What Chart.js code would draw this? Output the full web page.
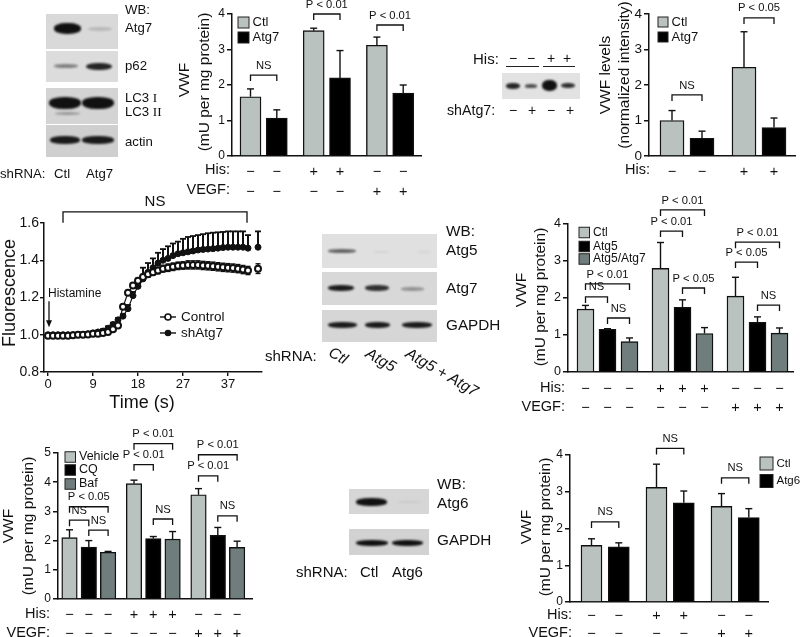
<!DOCTYPE html>
<html lang="en">
<head>
    <meta charset="UTF-8">
    <title>VWF secretion panels</title>
    <script src="https://cdn.jsdelivr.net/npm/chart.js"></script>
    <style>
        html, body { margin: 0; background: #fff; }
        #page { position: relative; width: 800px; height: 637px; overflow: hidden; font-family: "Liberation Sans", Arial, sans-serif; color: #111; }
        canvas { position: absolute; left: 0; top: 0; }
        .lbl { position: absolute; white-space: nowrap; transform: translateY(-50%); }
        .rot { position: absolute; white-space: nowrap; font-style: italic; transform-origin: left center; transform: translateY(-50%) rotate(30deg); }
        .blot { position: absolute; }
        .band { position: absolute; background: #111; border-radius: 45%; filter: blur(1px); }
        .rule { position: absolute; height: 1px; background: #222; }
        .serif { font-family: "Liberation Serif", serif; }
    </style>
</head>
<body>
<div id="page"></div>
<script>
    // top panel: VWF in medium (Ctl / Atg7)
    const atg7Ctl = [1.67, 3.53, 3.12];
    const atg7CtlTop = [1.89, 3.6, 3.35];
    const atg7Kd = [1.07, 2.2, 1.77];
    const atg7KdTop = [1.3, 2.97, 2.0];
    const atg7His = ['−', '−', '+', '+', '−', '−'];
    const atg7Vegf = ['−', '−', '−', '−', '+', '+'];

    // top right panel: normalized intensity
    const levelCtl = [1.0, 2.5];
    const levelCtlTop = [1.28, 3.5];
    const levelKd = [0.5, 0.8];
    const levelKdTop = [0.7, 1.07];
    const levelHis = ['−', '−', '+', '+'];

    // middle right panel: Ctl / Atg5 / Atg5+Atg7
    const atg5Ctl = [1.7, 2.8, 2.05];
    const atg5CtlTop = [1.8, 3.5, 2.56];
    const atg5Kd = [1.15, 1.75, 1.34];
    const atg5KdTop = [1.17, 1.95, 1.49];
    const atg57Kd = [0.82, 1.04, 1.05];
    const atg57KdTop = [0.92, 1.2, 1.19];
    const triHis = ['−', '−', '−', '+', '+', '+', '−', '−', '−'];
    const triVegf = ['−', '−', '−', '−', '−', '−', '+', '+', '+'];

    // bottom left panel: lysosome inhibitors
    const vehicle = [2.1, 3.95, 3.57];
    const vehicleTop = [2.37, 4.07, 3.78];
    const cq = [1.78, 2.07, 2.18];
    const cqTop = [2.0, 2.14, 2.45];
    const baf = [1.6, 2.05, 1.77];
    const bafTop = [1.63, 2.31, 1.98];

    // bottom right panel: Ctl / Atg6
    const atg6Ctl = [1.54, 3.12, 2.6];
    const atg6CtlTop = [1.72, 3.75, 2.95];
    const atg6Kd = [1.5, 2.7, 2.3];
    const atg6KdTop = [1.61, 3.02, 2.54];

    // time course
    const seconds = [0,1,2,3,4,5,6,7,8,9,10,11,12,13,14,15,16,17,18,19,20,21,22,23,24,25,26,27,28,29,30,31,32,33,34,35,36,37,38,39,40,41,42];
    const control = [0.995,0.995,0.995,0.995,0.995,0.997,1.0,1.0,1.002,1.005,1.005,1.01,1.015,1.03,1.05,1.15,1.225,1.265,1.29,1.31,1.325,1.335,1.345,1.355,1.36,1.365,1.37,1.372,1.375,1.375,1.375,1.372,1.37,1.368,1.365,1.362,1.36,1.358,1.355,1.35,1.345,null,1.355];
    const controlErr = [0.005,0.005,0.005,0.005,0.005,0.005,0.005,0.005,0.005,0.005,0.005,0.005,0.006,0.008,0.01,0.01,0.012,0.012,0.014,0.014,0.016,0.016,0.018,0.018,0.02,0.02,0.02,0.02,0.022,0.022,0.022,0.022,0.022,0.022,0.022,0.022,0.022,0.022,0.022,0.022,0.022,null,0.026];
    const shAtg7 = [1.0,1.0,1.0,1.0,1.0,1.0,1.0,1.002,1.005,1.01,1.015,1.02,1.035,1.055,1.08,1.1,1.14,1.21,1.26,1.3,1.335,1.36,1.385,1.4,1.41,1.425,1.435,1.44,1.445,1.45,1.455,1.458,1.46,1.462,1.465,1.468,1.47,1.47,1.47,1.47,1.465,null,1.47];
    const shAtg7Top = [1.005,1.005,1.005,1.005,1.005,1.005,1.005,1.008,1.012,1.017,1.022,1.03,1.045,1.065,1.09,1.11,1.16,1.23,1.3,1.36,1.385,1.41,1.44,1.46,1.475,1.49,1.5,1.515,1.525,1.53,1.535,1.54,1.545,1.548,1.55,1.552,1.555,1.555,1.555,1.555,1.535,null,1.555];
    const timeTicks = [0, 9, 18, 27, 36];
    const timeTickLabels = ['0', '9', '18', '27', '37'];
    const fluorTicks = [0.8, 1.0, 1.2, 1.4, 1.6];

    const GRAY = '#b9c2bf';
    const BLACK = '#000000';
    const SLATE = '#6f7d7d';
    const FONT = '"Liberation Sans", Arial, sans-serif';

    Chart.defaults.font.family = FONT;
    Chart.defaults.color = '#111';

    const page = document.getElementById('page');

    function newCanvas() {
        const c = document.createElement('canvas');
        c.width = 800;
        c.height = 637;
        c.style.width = '800px';
        c.style.height = '637px';
        page.appendChild(c);
        return c;
    }

    function putText(ctx, text, x, y, size, align, rotate) {
        ctx.save();
        ctx.translate(x, y);
        if (rotate) ctx.rotate(rotate);
        ctx.font = size + 'px ' + FONT;
        ctx.fillStyle = '#111';
        ctx.textAlign = align || 'center';
        ctx.textBaseline = 'middle';
        ctx.fillText(text, 0, 0);
        ctx.restore();
    }

    function strokePath(ctx, points, width) {
        ctx.beginPath();
        points.forEach((p, i) => i ? ctx.lineTo(p[0], p[1]) : ctx.moveTo(p[0], p[1]));
        ctx.lineWidth = width;
        ctx.strokeStyle = '#111';
        ctx.stroke();
    }

    function barPanel(cfg) {
        const n = cfg.series.length;
        const barX = idx => cfg.start + idx * cfg.pitch + Math.floor(idx / n) * cfg.gap;
        const total = cfg.series[0].values.length * n;
        const centers = [];
        for (let i = 0; i < total; i++) centers.push(barX(i));

        const marks = {
            id: 'marks',
            beforeDatasetsDraw(chart) {
                const { ctx, scales: { x, y } } = chart;
                ctx.save();
                cfg.series.forEach((s, j) => s.tops.forEach((top, g) => {
                    const px = x.getPixelForValue(barX(g * n + j));
                    const y0 = y.getPixelForValue(s.values[g]);
                    const y1 = y.getPixelForValue(top);
                    strokePath(ctx, [[px, y0], [px, y1]], 1.4);
                    strokePath(ctx, [[px - 3.5, y1], [px + 3.5, y1]], 1.4);
                }));
                ctx.restore();
            },
            afterDraw(chart) {
                const { ctx, scales: { x, y } } = chart;
                ctx.save();
                cfg.brackets.forEach(b => {
                    const x0 = x.getPixelForValue(barX(b[0]));
                    const x1 = x.getPixelForValue(barX(b[1]));
                    const py = y.getPixelForValue(b[2]);
                    strokePath(ctx, [[x0, py + 6], [x0, py], [x1, py], [x1, py + 6]], 1.3);
                    putText(ctx, b[3], (x0 + x1) / 2, py - 9.5, 11.2);
                });
                cfg.series.forEach((s, j) => {
                    const ly = cfg.legend.ys[j];
                    ctx.fillStyle = s.color;
                    ctx.fillRect(cfg.legend.x, ly - cfg.legend.size / 2, cfg.legend.size, cfg.legend.size);
                    ctx.lineWidth = 1;
                    ctx.strokeStyle = '#222';
                    ctx.strokeRect(cfg.legend.x, ly - cfg.legend.size / 2, cfg.legend.size, cfg.legend.size);
                    putText(ctx, s.label, cfg.legend.x + cfg.legend.size + 3.5, ly, cfg.legend.font, 'left');
                });
                cfg.titles.forEach(t => putText(ctx, t[0], t[1], t[2], 15.5, 'center', -Math.PI / 2));
                cfg.rowLabels.forEach(r => putText(ctx, r[0], cfg.rowRight, r[1], 14.5, 'right'));
                ctx.restore();
            }
        };

        new Chart(newCanvas().getContext('2d'), {
            type: 'bar',
            data: {
                datasets: cfg.series.map((s, j) => ({
                    label: s.label,
                    data: s.values.map((v, g) => ({ x: barX(g * n + j), y: v })),
                    backgroundColor: s.color,
                    borderColor: '#111',
                    borderWidth: 1.4,
                    borderSkipped: 'bottom',
                    barThickness: cfg.barWidth,
                    grouped: false
                }))
            },
            options: {
                responsive: false,
                animation: false,
                events: [],
                layout: { padding: { left: 0, top: cfg.plot[1], right: 800 - cfg.plot[2], bottom: 0 } },
                plugins: { legend: { display: false }, tooltip: { enabled: false } },
                scales: {
                    x: {
                        type: 'linear',
                        min: cfg.plot[0],
                        max: cfg.plot[2],
                        offset: false,
                        afterFit: s => { s.height = 637 - cfg.plot[3]; },
                        afterBuildTicks: s => { s.ticks = centers.map(v => ({ value: v })); },
                        grid: { display: false, drawTicks: false },
                        border: { color: '#111', width: 1.5 },
                        ticks: {
                            autoSkip: false,
                            maxRotation: 0,
                            padding: cfg.rowPad,
                            color: '#111',
                            font: { size: 14.5, lineHeight: cfg.rowGap / 14.5 },
                            callback: (v, i) => cfg.rows.map(r => r[i])
                        }
                    },
                    y: {
                        min: 0,
                        max: cfg.yMax,
                        afterFit: s => { s.width = cfg.plot[0]; },
                        grid: { drawOnChartArea: false, color: '#111', lineWidth: 1.5, tickLength: 5 },
                        border: { color: '#111', width: 1.5 },
                        ticks: { stepSize: 1, padding: 2, color: '#111', font: { size: cfg.tickSize } }
                    }
                }
            },
            plugins: [marks]
        });
    }

    barPanel({
        plot: [232, 14, 421, 156], yMax: 4, start: 250.5, pitch: 26.3, gap: 10.6, barWidth: 21, tickSize: 12,
        series: [
            { label: 'Ctl', color: GRAY, values: atg7Ctl, tops: atg7CtlTop },
            { label: 'Atg7', color: BLACK, values: atg7Kd, tops: atg7KdTop }
        ],
        rows: [atg7His, atg7Vegf], rowPad: 6, rowGap: 20, rowRight: 230,
        rowLabels: [['His:', 170], ['VEGF:', 190]],
        legend: { x: 238, ys: [22.5, 37.5], size: 11, font: 13 },
        titles: [['VWF', 185, 80], ['(mU per mg protein)', 205, 82]],
        brackets: [[0, 1, 2.28, 'NS'], [2, 3, 4.0, 'P < 0.01'], [4, 5, 3.69, 'P < 0.01']]
    });

    barPanel({
        plot: [649, 14, 795, 156], yMax: 4, start: 672, pitch: 30, gap: 12, barWidth: 24, tickSize: 13.5,
        series: [
            { label: 'Ctl', color: GRAY, values: levelCtl, tops: levelCtlTop },
            { label: 'Atg7', color: BLACK, values: levelKd, tops: levelKdTop }
        ],
        rows: [levelHis], rowPad: 6, rowGap: 20, rowRight: 650,
        rowLabels: [['His:', 170]],
        legend: { x: 658, ys: [22, 37], size: 10, font: 13 },
        titles: [['VWF levels', 606, 75], ['(normalized intensity)', 625, 75]],
        brackets: [[0, 1, 1.72, 'NS'], [2, 3, 3.89, 'P < 0.05']]
    });

    barPanel({
        plot: [568, 224, 793, 372], yMax: 4, start: 585.5, pitch: 22, gap: 9, barWidth: 17, tickSize: 12.5,
        series: [
            { label: 'Ctl', color: GRAY, values: atg5Ctl, tops: atg5CtlTop },
            { label: 'Atg5', color: BLACK, values: atg5Kd, tops: atg5KdTop },
            { label: 'Atg5/Atg7', color: SLATE, values: atg57Kd, tops: atg57KdTop }
        ],
        rows: [triHis, triVegf], rowPad: 7, rowGap: 19, rowRight: 565,
        rowLabels: [['His:', 388], ['VEGF:', 407]],
        legend: { x: 579, ys: [232.5, 246.5, 259], size: 10.5, font: 12 },
        titles: [['VWF', 522, 290], ['(mU per mg protein)', 541, 297]],
        brackets: [
            [0, 2, 2.38, 'P < 0.01'], [0, 1, 2.03, 'NS'], [1, 2, 1.46, 'NS'],
            [3, 5, 4.38, 'P < 0.01'], [3, 4, 3.81, 'P < 0.01'], [4, 5, 2.27, 'P < 0.05'],
            [6, 8, 3.51, 'P < 0.01'], [6, 7, 2.97, 'P < 0.05'], [7, 8, 1.81, 'NS']
        ]
    });

    barPanel({
        plot: [58, 453, 252, 599], yMax: 5, start: 69.5, pitch: 19.3, gap: 6.6, barWidth: 15.5, tickSize: 12,
        series: [
            { label: 'Vehicle', color: GRAY, values: vehicle, tops: vehicleTop },
            { label: 'CQ', color: BLACK, values: cq, tops: cqTop },
            { label: 'Baf', color: SLATE, values: baf, tops: bafTop }
        ],
        rows: [triHis, triVegf], rowPad: 6, rowGap: 19, rowRight: 50,
        rowLabels: [['His:', 614], ['VEGF:', 633]],
        legend: { x: 65, ys: [457, 470, 484], size: 10.5, font: 12.5 },
        titles: [['VWF', 9, 526], ['(mU per mg protein)', 29, 526]],
        brackets: [
            [0, 2, 3.16, 'P < 0.05'], [0, 1, 2.7, 'NS'], [1, 2, 2.36, 'NS'],
            [3, 5, 5.32, 'P < 0.01'], [3, 4, 4.6, 'P < 0.01'], [4, 5, 2.74, 'NS'],
            [6, 8, 4.94, 'P < 0.01'], [6, 7, 4.22, 'P < 0.01'], [7, 8, 2.85, 'NS']
        ]
    });

    barPanel({
        plot: [570, 455, 768, 602], yMax: 4, start: 591.5, pitch: 27.3, gap: 10.4, barWidth: 21, tickSize: 12,
        series: [
            { label: 'Ctl', color: GRAY, values: atg6Ctl, tops: atg6CtlTop },
            { label: 'Atg6', color: BLACK, values: atg6Kd, tops: atg6KdTop }
        ],
        rows: [atg7His, atg7Vegf], rowPad: 5, rowGap: 18, rowRight: 572,
        rowLabels: [['His:', 615], ['VEGF:', 633]],
        legend: { x: 760, ys: [463.5, 481], size: 13, font: 11.5 },
        titles: [['VWF', 527, 527], ['(mU per mg protein)', 546, 527]],
        brackets: [[0, 1, 2.18, 'NS'], [2, 3, 4.18, 'NS'], [4, 5, 3.38, 'NS']]
    });

    // time course, its error bars and labels go through the same scales
    const timeMarks = {
        id: 'timeMarks',
        beforeDatasetsDraw(chart) {
            const { ctx, scales: { x, y } } = chart;
            ctx.save();
            seconds.forEach((t, i) => {
                if (shAtg7[i] === null) return;
                const px = x.getPixelForValue(t);
                const top = y.getPixelForValue(shAtg7Top[i]);
                strokePath(ctx, [[px, y.getPixelForValue(shAtg7[i])], [px, top]], 2);
                strokePath(ctx, [[px - 3, top], [px + 3, top]], 1.8);
                const c0 = y.getPixelForValue(control[i] - controlErr[i]);
                const c1 = y.getPixelForValue(control[i] + controlErr[i]);
                strokePath(ctx, [[px, c0], [px, c1]], 1.4);
                strokePath(ctx, [[px - 2.5, c0], [px + 2.5, c0]], 1.4);
                strokePath(ctx, [[px - 2.5, c1], [px + 2.5, c1]], 1.4);
            });
            ctx.restore();
        },
        afterDraw(chart) {
            const { ctx, scales: { x, y } } = chart;
            ctx.save();
            // NS bracket over the whole recording
            const bx0 = x.getPixelForValue(3);
            const bx1 = x.getPixelForValue(39.8);
            const by = y.getPixelForValue(1.66);
            strokePath(ctx, [[bx0, by + 11], [bx0, by], [bx1, by], [bx1, by + 11]], 1.3);
            putText(ctx, 'NS', (bx0 + bx1) / 2, by - 10, 15);
            // histamine arrow
            const ax = x.getPixelForValue(0.2);
            const ay0 = y.getPixelForValue(1.18);
            const ay1 = y.getPixelForValue(1.04);
            putText(ctx, 'Histamine', ax - 1, y.getPixelForValue(1.22), 12, 'left');
            strokePath(ctx, [[ax, ay0], [ax, ay1 - 4]], 1.3);
            ctx.fillStyle = '#111';
            ctx.beginPath();
            ctx.moveTo(ax - 3, ay1 - 7);
            ctx.lineTo(ax + 3, ay1 - 7);
            ctx.lineTo(ax, ay1);
            ctx.closePath();
            ctx.fill();
            // legend
            [[317, 'Control', '#fff', 3], [333, 'shAtg7', '#111', 2.5]].forEach(row => {
                strokePath(ctx, [[160, row[0]], [176, row[0]]], 1.4);
                ctx.beginPath();
                ctx.arc(168, row[0], row[3], 0, Math.PI * 2);
                ctx.fillStyle = row[2];
                ctx.fill();
                ctx.lineWidth = 1.6;
                ctx.strokeStyle = '#111';
                ctx.stroke();
                putText(ctx, row[1], 181, row[0], 13.5, 'left');
            });
            putText(ctx, 'Fluorescence', 10, 293, 18, 'center', -Math.PI / 2);
            putText(ctx, 'Time (s)', 142, 403, 18);
            ctx.restore();
        }
    };

    new Chart(newCanvas().getContext('2d'), {
        type: 'line',
        data: {
            labels: seconds,
            datasets: [
                {
                    label: 'Control',
                    data: control,
                    borderColor: '#111',
                    borderWidth: 1.2,
                    pointRadius: 3,
                    pointBackgroundColor: '#fff',
                    pointBorderColor: '#111',
                    pointBorderWidth: 2
                },
                {
                    label: 'shAtg7',
                    data: shAtg7,
                    borderColor: '#111',
                    borderWidth: 1.2,
                    pointRadius: 3,
                    pointBackgroundColor: '#111',
                    pointBorderColor: '#111',
                    pointBorderWidth: 1
                }
            ]
        },
        options: {
            responsive: false,
            animation: false,
            events: [],
            layout: { padding: { left: 0, top: 223, right: 800 - 262, bottom: 0 } },
            plugins: { legend: { display: false }, tooltip: { enabled: false } },
            scales: {
                x: {
                    type: 'linear',
                    min: -0.8,
                    max: 42.8,
                    afterFit: s => { s.height = 637 - 372; },
                    afterBuildTicks: s => { s.ticks = timeTicks.map(v => ({ value: v })); },
                    grid: { drawOnChartArea: false, color: '#111', lineWidth: 1.4, tickLength: 4 },
                    border: { color: '#111', width: 1.5 },
                    ticks: {
                        autoSkip: false,
                        maxRotation: 0,
                        padding: 1,
                        color: '#111',
                        font: { size: 13 },
                        callback: (v, i) => timeTickLabels[i]
                    }
                },
                y: {
                    min: 0.8,
                    max: 1.6,
                    afterFit: s => { s.width = 44; },
                    afterBuildTicks: s => { s.ticks = fluorTicks.map(v => ({ value: v })); },
                    grid: { drawOnChartArea: false, color: '#111', lineWidth: 1.4, tickLength: 4 },
                    border: { color: '#111', width: 1.5 },
                    ticks: { padding: 1, color: '#111', font: { size: 14 }, callback: v => v.toFixed(1) }
                }
            }
        },
        plugins: [timeMarks]
    });

    // western blots are pictures in the source, drawn here as blurred bands
    const blots = [
        { box: [46, 14, 72, 35], bg: '#d9d9d9', bands: [[54, 23, 27, 11, 1], [88, 27, 24, 3.5, 0.16]] },
        { box: [46, 51, 72, 31], bg: '#dcdcdc', bands: [[54, 64, 24, 4, 0.45], [86, 63, 26, 7, 0.9]] },
        { box: [46, 88, 72, 36], bg: '#d4d4d4', bands: [[49, 97, 32, 12, 1], [82, 97, 32, 12, 1], [55, 112, 25, 3, 0.3]] },
        { box: [46, 125, 72, 32], bg: '#cfcfcf', bands: [[50, 136, 30, 8, 0.95], [82, 136, 32, 8, 0.95]] },
        { box: [502, 73, 78, 26], bg: '#e2e2e2', bands: [[506, 83, 14, 6, 0.9], [525, 84, 12, 3.5, 0.7], [542, 80, 15, 11, 1], [561, 83, 14, 5, 0.85]] },
        { box: [322, 234, 115, 34], bg: '#e0e0e0', bands: [[328, 249, 28, 4, 0.6], [372, 251, 18, 2, 0.06], [417, 251, 14, 2, 0.05]] },
        { box: [322, 272, 115, 33], bg: '#d8d8d8', bands: [[328, 285, 26, 6, 0.95], [365, 285, 24, 6, 0.85], [401, 287, 23, 3.5, 0.35]] },
        { box: [322, 310, 115, 32], bg: '#d6d6d6', bands: [[328, 322, 29, 6, 0.95], [365, 322, 25, 6, 0.95], [402, 322, 30, 6, 0.95]] },
        { box: [349, 489, 80, 25], bg: '#d6d6d6', bands: [[356, 498, 31, 8, 1], [396, 501, 27, 2, 0.05]] },
        { box: [349, 529, 80, 26], bg: '#d2d2d2', bands: [[356, 540, 32, 6, 1], [392, 540, 31, 6, 1]] }
    ];

    blots.forEach(b => {
        const el = document.createElement('div');
        el.className = 'blot';
        el.style.cssText = `left:${b.box[0]}px;top:${b.box[1]}px;width:${b.box[2]}px;height:${b.box[3]}px;background:${b.bg}`;
        b.bands.forEach(s => {
            const band = document.createElement('div');
            band.className = 'band';
            band.style.cssText = `left:${s[0] - b.box[0]}px;top:${s[1] - b.box[1]}px;width:${s[2]}px;height:${s[3]}px;opacity:${s[4]}`;
            el.appendChild(band);
        });
        page.appendChild(el);
    });

    const blotLabels = [
        ['WB:', 125, 9, 13.2], ['Atg7', 125, 27, 13.2], ['p62', 125, 65, 13.2],
        ['LC3 <span class="serif">I</span>', 125, 98, 13.2], ['LC3 <span class="serif">II</span>', 125, 112, 13.2],
        ['actin', 125, 141, 13.2], ['shRNA:', 0, 173, 13.2], ['Ctl', 54, 173, 13.2], ['Atg7', 86, 173, 13.2],
        ['His:', 473, 58, 15], ['−', 509, 58, 14], ['−', 527, 58, 14], ['+', 547, 58, 14], ['+', 563, 58, 14],
        ['shAtg7:', 447, 110, 14.2], ['−', 509, 110, 14], ['+', 528, 110, 14], ['−', 547, 110, 14], ['+', 566, 110, 14],
        ['WB:', 446, 231, 15.3], ['Atg5', 446, 250, 15.3], ['Atg7', 446, 288, 15.3], ['GAPDH', 446, 325, 15.3],
        ['shRNA:', 265, 355, 15],
        ['WB:', 437, 484, 15.3], ['Atg6', 437, 503, 15.3], ['GAPDH', 437, 540, 15.3],
        ['shRNA:', 296, 571, 15], ['Ctl', 360, 571, 15], ['Atg6', 392, 571, 15]
    ];

    blotLabels.forEach(l => {
        const el = document.createElement('div');
        el.className = 'lbl';
        el.innerHTML = l[0];
        el.style.cssText = `left:${l[1]}px;top:${l[2]}px;font-size:${l[3]}px`;
        page.appendChild(el);
    });

    [['Ctl', 330, 351], ['Atg5', 367, 352], ['Atg5 + Atg7', 407, 352]].forEach(l => {
        const el = document.createElement('div');
        el.className = 'rot';
        el.textContent = l[0];
        el.style.cssText = `left:${l[1]}px;top:${l[2]}px;font-size:15.5px`;
        page.appendChild(el);
    });

    [[506, 66, 33], [543, 66, 32]].forEach(r => {
        const el = document.createElement('div');
        el.className = 'rule';
        el.style.cssText = `left:${r[0]}px;top:${r[1]}px;width:${r[2]}px`;
        page.appendChild(el);
    });
</script>
</body>
</html>
